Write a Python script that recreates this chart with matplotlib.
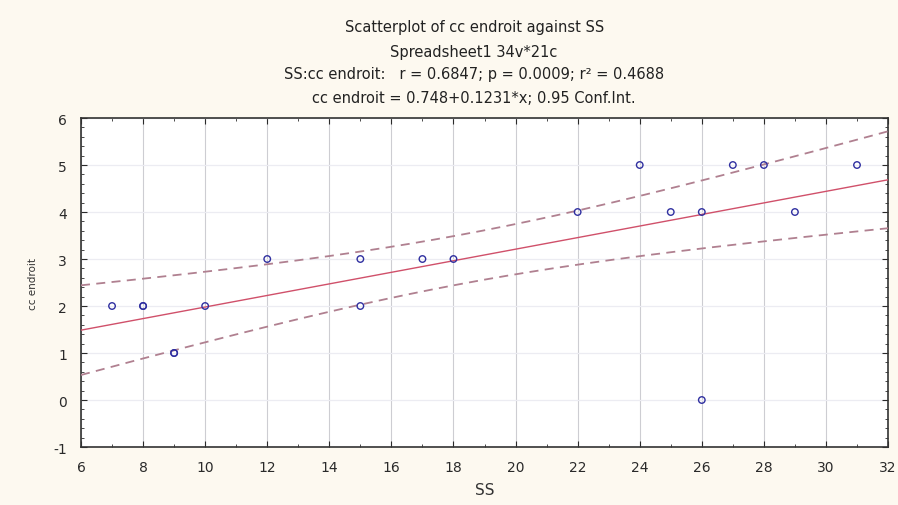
import matplotlib
matplotlib.use('Agg')
import matplotlib.pyplot as plt
from matplotlib.ticker import MultipleLocator
import numpy as np

# data (two cases hidden behind (8,2) and (9,1))
ss = [7, 8, 8, 9, 9, 10, 12, 15, 15, 17, 18, 22, 24, 25, 26, 26, 27, 28, 29, 31]
cc_endroit = [2, 2, 2, 1, 1, 2, 3, 3, 2, 3, 3, 4, 5, 4, 4, 0, 5, 5, 4, 5]
t_crit = 2.1009  # t(0.975, df=18)

title_lines = [
    'Scatterplot of cc endroit against SS',
    'Spreadsheet1 34v*21c',
    'SS:cc endroit:   r = 0.6847; p = 0.0009; r² = 0.4688',
    'cc endroit = 0.748+0.1231*x; 0.95 Conf.Int.',
]

plt.rcParams['font.family'] = ['DejaVu Sans']
plt.rcParams['axes.unicode_minus'] = False

x = np.array(ss, dtype=float)
y = np.array(cc_endroit, dtype=float)
n = len(x)
slope, intercept = np.polyfit(x, y, 1)
resid = y - (intercept + slope * x)
s = np.sqrt(np.sum(resid ** 2) / (n - 2))
sxx = np.sum((x - x.mean()) ** 2)

xs = np.linspace(6, 32, 200)
fit = intercept + slope * xs
half = t_crit * s * np.sqrt(1.0 / n + (xs - x.mean()) ** 2 / sxx)

bg = '#fdf9f0'
fig = plt.figure(figsize=(8.98, 5.06), dpi=100, facecolor=bg)
ax = fig.add_axes([0.0902, 0.1146, 0.8987, 0.6502])
ax.set_facecolor('white')

ax.plot(xs, fit, color='#d0506a', lw=1.0, zorder=3)
ax.plot(xs, fit + half, color='#b08090', lw=1.3, ls=(0, (5, 3.5)), zorder=3)
ax.plot(xs, fit - half, color='#b08090', lw=1.3, ls=(0, (5, 3.5)), zorder=3)
ax.scatter(x, y, s=22, facecolors='none', edgecolors='#2f2fa0', linewidths=1.0, zorder=4)

ax.set_xlim(6, 32)
ax.set_ylim(-1, 6)
ax.xaxis.set_major_locator(MultipleLocator(2))
ax.xaxis.set_minor_locator(MultipleLocator(1))
ax.yaxis.set_major_locator(MultipleLocator(1))
ax.yaxis.set_minor_locator(MultipleLocator(0.2))
ax.tick_params(which='both', direction='in', top=True, right=True,
               labelsize=10, colors='#2a2a2a')
ax.tick_params(which='major', length=4, width=0.8)
ax.tick_params(which='minor', length=2.5, width=0.6)
ax.tick_params(axis='x', which='major', pad=9)
ax.tick_params(axis='y', which='major', pad=10)

ax.grid(axis='x', which='major', color='#cdcdd2', lw=0.8, zorder=0)
ax.grid(axis='y', which='major', color='#ececf2', lw=0.9, zorder=0)
for side in ax.spines.values():
    side.set_color('#333333')
    side.set_linewidth(1.2)

ax.set_xlabel('SS', fontsize=11, color='#333333', labelpad=6)
ax.set_ylabel('cc endroit', fontsize=7.5, color='#333333', labelpad=11)

ys = [0.945, 0.897, 0.852, 0.806]
for txt, yy in zip(title_lines, ys):
    fig.text(0.528, yy, txt, ha='center', va='center', fontsize=10.5, color='#222222')

fig.savefig('out.png', dpi=100, facecolor=bg)
